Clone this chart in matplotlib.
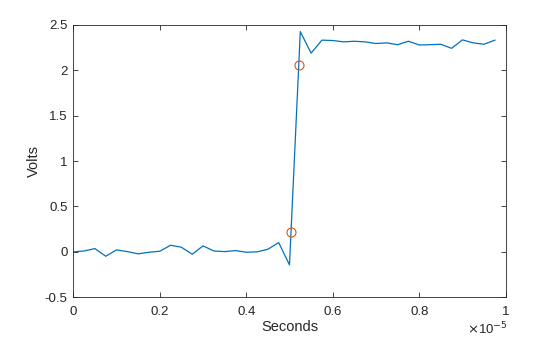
import matplotlib
matplotlib.use('Agg')
import matplotlib.pyplot as plt
from matplotlib.ticker import FuncFormatter, MultipleLocator
import numpy as np

# sampled waveform, 0.25 us step
dt = 0.25e-6
volts = [0.0, 0.01, 0.036, -0.048, 0.022, 0.003, -0.022, -0.004, 0.007, 0.073,
         0.051, -0.026, 0.066, 0.01, 0.003, 0.014, -0.004, 0.0, 0.029, 0.102,
         -0.143, 2.424, 2.187, 2.33, 2.326, 2.311, 2.318, 2.311, 2.293, 2.30,
         2.28, 2.318, 2.277, 2.28, 2.285, 2.24, 2.333, 2.30, 2.285, 2.33]
# 10% / 90% crossing markers
cross_t = [5.035e-6, 5.214e-6]
cross_v = [0.22, 2.055]

plt.rcParams['font.family'] = ['Liberation Sans', 'DejaVu Sans']
plt.rcParams['axes.unicode_minus'] = False

t = np.arange(len(volts)) * dt

fig = plt.figure(figsize=(5.6, 3.37), dpi=100)
ax = fig.add_axes([0.1309, 0.1178, 0.903 - 0.1309, 0.9267 - 0.1178])
ax.plot(t, volts, color='#0072BD', lw=0.9)
ax.plot(cross_t, cross_v, 'o', mfc='none', mec='#D95319', ms=6.5, mew=0.8)

ax.set_xlim(0, 1e-5)
ax.set_ylim(-0.5, 2.5)
ax.xaxis.set_major_locator(MultipleLocator(0.2e-5))
ax.yaxis.set_major_locator(MultipleLocator(0.5))
ax.xaxis.set_major_formatter(FuncFormatter(lambda v, p: '%g' % round(v / 1e-5, 6)))
ax.yaxis.set_major_formatter(FuncFormatter(lambda v, p: '%g' % round(v, 6)))
ax.tick_params(direction='in', top=True, right=True, length=3.5, width=0.6,
               labelsize=9.5, colors='#262626', labelcolor='#262626')
ax.tick_params(axis='x', pad=6.5)
ax.tick_params(axis='y', pad=4)
for s in ax.spines.values():
    s.set_linewidth(0.6)
    s.set_color('#262626')

ax.text(1.005, -0.085, r'$\times$10$^{-5}$', transform=ax.transAxes,
        ha='right', va='top', fontsize=9.5, color='#262626')
ax.set_xlabel('Seconds', fontsize=10.5, color='#262626', labelpad=1.2)
ax.set_ylabel('Volts', fontsize=10.5, color='#262626', labelpad=3)

fig.savefig('out.png', dpi=100)
